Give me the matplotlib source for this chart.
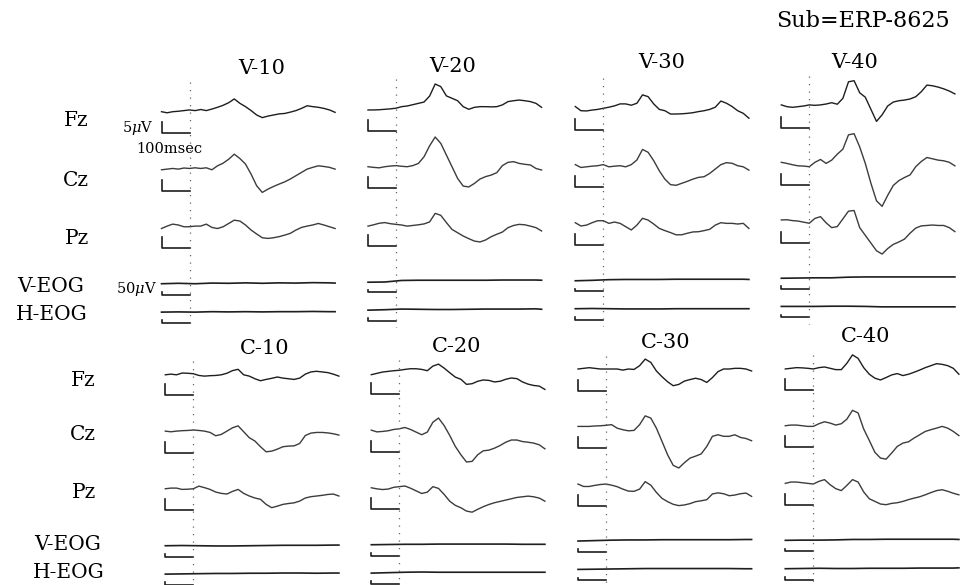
import numpy as np
import matplotlib.pyplot as plt

plt.rcParams['font.family'] = ['DejaVu Serif']
plt.rcParams['mathtext.fontset'] = 'dejavuserif'

# sample times (ms), stimulus onset at 0
T_MS = np.arange(-100, 521, 20)
T_EOG = [-100, -40, 20, 80, 140, 200, 260, 320, 380, 440, 500, 520]

# averaged ERPs in uV (positive up)
V10_FZ = [0, -0.5, 0, 0.2, 0.5, 0.8, 0.5, 1.0, 0.5, 1.2, 2.0, 2.9, 4.1, 5.8, 3.8, 2.3,
          0.5, -1.5, -2.7, -2.0, -1.5, -1.0, -0.8, -0.2, 0.5, 1.5, 2.7, 2.3, 2.0, 1.5, 0.8, -0.3]
V10_CZ = [-0.3, 0, 0.3, 0, 0.5, 0.3, 0.6, 0.3, 0.6, -0.3, 1.5, 2.7, 4.5, 6.8, 4.8, 2.3,
          -2.3, -7.6, -10.6, -9.1, -7.9, -6.8, -5.8, -4.5, -3.0, -1.5, 0, 0.8, 1.5, 1.2, 0.8, 0]
V10_PZ = [-0.8, 0.3, 1.2, 0.8, 0, 0, 0.3, 0.3, 1.2, -0.3, -0.8, 0, 1.5, 3.0, 2.6, 0.8,
          -1.5, -3.3, -5.0, -5.3, -5.0, -4.5, -3.8, -3.0, -1.5, -0.3, 0.3, 0.8, 1.5, 0.8, 0, -0.8]

V20_FZ = [-0.3, -0.3, -0.2, 0, 0.2, 0.5, 1.2, 1.5, 2.1, 2.7, 3.3, 6.0, 11.5, 10.3, 6.1, 5.0,
          3.9, 1.2, 0, 0.9, 1.2, 1.2, 1.1, 1.2, 2.0, 3.5, 3.9, 4.2, 3.9, 3.5, 2.7, 0.9]
V20_CZ = [0, -0.3, -0.5, 0, 0.3, 0.5, 0.2, 0, 0.5, 1.5, 4.5, 9.5, 13.5, 10.6, 5.3, 0,
          -5.3, -8.8, -9.2, -7.6, -5.6, -4.5, -3.8, -2.7, 0.5, 2.0, 2.3, 1.5, 1.1, 0.8, -0.8, -1.5]
V20_PZ = [-0.8, -0.2, 0.5, 0.8, 0.3, 0, -0.3, -0.8, -0.5, -0.2, 0.2, 1.1, 5.0, 4.1, 0.8, -2.3,
          -3.8, -5.3, -6.5, -7.6, -8.0, -7.1, -5.6, -4.5, -3.5, -1.5, -0.5, 0, -0.2, -0.8, -1.5, -3.0]

V30_FZ = [0.8, -1.1, -1.2, -0.8, -0.5, 0, 0.5, 1.1, 2.0, 2.0, 1.4, 2.3, 6.1, 5.3, 2.0, -0.5,
          -1.1, -2.6, -2.6, -2.5, -2.3, -2.0, -1.5, -1.1, -0.5, 0.5, 3.3, 2.3, 0.8, -1.1, -2.3, -4.5]
V30_CZ = [0.5, -0.8, -0.5, -0.2, 0, 0.5, -0.5, -0.2, 0, -0.5, 0.5, 2.6, 7.4, 6.1, 2.3, -2.3,
          -6.1, -8.6, -8.9, -8.0, -7.1, -6.1, -5.3, -5.0, -3.5, -1.5, 0.5, 1.4, 1.1, 0, -0.5, -2.0]
V30_PZ = [0.3, -1.2, -0.8, 0.3, 1.2, 1.2, 0, 0.6, 0, -1.5, -3.0, -0.8, 2.3, 1.5, -0.3, -2.3,
          -3.3, -4.2, -5.2, -5.2, -4.5, -3.9, -3.8, -3.3, -2.7, -0.8, 0.3, 0, 0, -0.3, 0, -2.3]

V40_FZ = [0.5, -0.3, -0.6, -0.3, 0, 0.5, 0.3, 0.5, 0.9, 1.5, 0.8, 3.5, 11.0, 11.5, 6.0, 4.0,
          -1.5, -7.0, -4.0, 0, 1.8, 2.4, 2.7, 3.2, 4.2, 6.5, 9.5, 9.2, 8.6, 7.8, 6.8, 5.5]
V40_CZ = [0.5, 0, -0.6, -1.1, -1.2, -1.5, 0.5, 1.8, 0, 1.5, 4.2, 6.5, 13.0, 13.5, 7.5, 0,
          -9.0, -17.0, -19.5, -14.5, -10.0, -7.8, -6.4, -5.2, -1.5, 0.9, 2.7, 2.1, 1.5, 1.2, 0.5, -1.1]
V40_PZ = [0.5, 0.6, 0.2, 0, -0.5, -1.0, 1.2, 2.0, -0.8, -3.0, -2.5, 1.0, 4.5, 4.8, -3.0, -6.5,
          -10.0, -13.5, -15.0, -12.5, -10.6, -9.5, -8.2, -5.5, -3.2, -2.2, -2.0, -1.8, -2.0, -2.0, -3.0, -4.8]

C10_FZ = [-0.5, -0.2, -0.5, 0.3, 0.2, 0, -0.8, -1.1, -0.9, -0.8, -0.5, 0.2, 1.4, 2.0, -0.5, -1.1,
          -2.3, -3.2, -2.6, -2.1, -1.5, -2.0, -2.3, -2.6, -2.0, -0.2, 0.8, 1.1, 0.8, 0.5, -0.2, -1.1]
C10_CZ = [0, -0.3, 0, 0.2, 0.3, 0.5, 0.3, 0, -0.6, -2.1, -1.5, 0, 1.5, 2.4, -0.3, -3.0,
          -4.5, -7.1, -9.4, -9.1, -8.2, -7.1, -6.8, -6.7, -5.6, -2.0, -0.9, -0.6, -0.6, -0.8, -1.2, -1.8]
C10_PZ = [0, 0.3, 0.3, -0.3, -0.2, 0, 1.2, 0.5, -0.3, -1.5, -2.1, -2.4, -1.2, -0.3, -2.1, -3.3,
          -4.2, -4.8, -7.1, -8.6, -7.9, -7.1, -6.7, -6.4, -5.6, -4.2, -3.6, -3.3, -3.0, -2.6, -2.4, -3.3]

C20_FZ = [-0.9, -0.3, 0.3, 0.6, 0.9, 1.1, 1.5, 1.8, 1.8, 1.5, 0.9, 3.0, 3.9, 2.1, 0, -2.0,
          -3.0, -5.3, -5.0, -3.9, -3.3, -3.5, -4.2, -3.9, -3.0, -2.4, -2.7, -4.2, -5.2, -5.8, -6.1, -7.6]
C20_CZ = [0, -0.8, -0.6, -0.3, 0.3, 0.6, 1.2, 0.3, -0.9, -2.1, -0.9, 3.6, 5.5, 2.1, -2.4, -7.4,
          -11.2, -14.5, -14.2, -11.2, -9.4, -9.1, -8.2, -7.0, -5.5, -4.5, -4.5, -5.2, -5.5, -5.9, -6.7, -8.5]
C20_PZ = [0, -0.5, -0.8, -0.6, 0.2, 0.5, 0.8, -0.2, -1.4, -2.6, -2.0, 0.5, -0.3, -3.0, -6.1, -8.0,
          -9.1, -10.6, -11.1, -9.8, -8.6, -7.6, -6.8, -6.2, -5.6, -5.0, -4.4, -4.1, -3.8, -4.1, -4.7, -6.1]

C30_FZ = [0, 0.3, 0.6, 0.3, 0, 0, 0, 0, -0.5, 0, -0.2, 1.5, 4.5, 3.0, -0.9, -3.5,
          -5.8, -7.6, -7.0, -5.5, -4.8, -4.2, -4.8, -6.1, -3.9, -1.2, 0, 0, 0.3, 0.3, 0, -0.9]
C30_CZ = [0, 0, 0, 0.2, 0.3, 0.5, 0.8, -0.8, -1.5, -2.0, -1.8, 0.8, 4.8, 3.8, -0.8, -6.8,
          -12.9, -17.7, -18.9, -16.5, -14.4, -13.5, -12.5, -9.1, -4.5, -3.8, -4.5, -4.5, -3.8, -5.0, -5.5, -6.5]
C30_PZ = [0, -1.1, -1.1, -0.6, -0.2, 0, -0.5, -1.2, -2.3, -3.2, -3.3, -2.3, 1.1, -0.5, -3.8, -6.5,
          -8.0, -9.2, -9.8, -9.5, -8.9, -8.0, -7.6, -7.1, -4.5, -4.0, -4.4, -5.3, -5.0, -4.4, -4.1, -5.6]

C40_FZ = [-0.3, 0, 0.3, 0.2, 0, -0.3, 0.3, 0.6, 0, -0.6, -0.6, 2.3, 6.1, 4.5, 0.3, -2.7,
          -4.5, -5.3, -4.2, -3.0, -2.4, -3.3, -2.7, -1.8, -0.8, 0.3, 1.2, 2.1, 1.8, 1.2, 0, -2.7]
C40_CZ = [0, 0.3, 0.3, 0, -0.3, -0.3, 0.9, 1.8, 1.2, 0.3, 0.9, 3.0, 7.0, 5.8, -1.5, -6.7,
          -12.1, -14.7, -15.2, -12.4, -9.4, -7.9, -7.3, -5.6, -4.1, -2.6, -1.8, -1.1, -0.3, -1.1, -2.6, -4.5]
C40_PZ = [0, 0.6, 0.6, 0.3, 0, -0.3, 0.9, 1.7, -0.6, -2.4, -3.3, -0.9, 1.7, 0.6, -3.9, -7.0,
          -8.2, -9.4, -9.7, -9.1, -8.8, -8.2, -7.4, -6.7, -6.1, -5.2, -4.2, -3.3, -2.9, -3.6, -4.5, -5.2]

# EOG (uV), nearly flat
V10_VEOG = [0, 2, 0, 3, 2, 4, 2, 4, 3, 5, 4, 3]
V10_HEOG = [0, 1, 0, 2, 1, 2, 1, 2, 2, 3, 2, 2]
V20_VEOG = [-4, -3, 4, 5, 5, 5, 5, 5, 6, 6, 6, 5]
V20_HEOG = [-2, 0, 3, 2, 1, 1, 2, 3, 3, 3, 4, 2]
V30_VEOG = [-2, 0, 3, 4, 4, 4, 5, 5, 5, 5, 5, 4]
V30_HEOG = [0, 1, 0, -1, -1, -1, 0, 0, 0, 0, 0, 0]
V40_VEOG = [-1, 0, 1, 1, 4, 5, 5, 5, 5, 5, 5, 5]
V40_HEOG = [0, 0, 0, 1, 1, 0, -2, -2, -2, -2, -2, -2]
C10_VEOG = [0, 1, 0, -1, -1, 0, 1, 2, 2, 2, 3, 3]
C10_HEOG = [0, 1, 2, 3, 3, 4, 4, 5, 5, 4, 5, 5]
C20_VEOG = [0, 1, 2, 2, 3, 3, 3, 3, 3, 2, 2, 2]
C20_HEOG = [0, 2, 4, 5, 4, 4, 4, 4, 4, 4, 4, 4]
C30_VEOG = [0, 2, 4, 5, 5, 6, 6, 6, 6, 6, 7, 7]
C30_HEOG = [0, 1, 2, 3, 4, 4, 4, 4, 4, 4, 3, 3]
C40_VEOG = [0, 1, 1, 2, 4, 4, 5, 5, 5, 5, 5, 4]
C40_HEOG = [0, 1, 2, 1, 1, 2, 2, 2, 3, 3, 3, 4]

TOP_TITLES = ['V-10', 'V-20', 'V-30', 'V-40']
BOT_TITLES = ['C-10', 'C-20', 'C-30', 'C-40']
TOP_WAVES = [(V10_FZ, V10_CZ, V10_PZ, V10_VEOG, V10_HEOG),
             (V20_FZ, V20_CZ, V20_PZ, V20_VEOG, V20_HEOG),
             (V30_FZ, V30_CZ, V30_PZ, V30_VEOG, V30_HEOG),
             (V40_FZ, V40_CZ, V40_PZ, V40_VEOG, V40_HEOG)]
BOT_WAVES = [(C10_FZ, C10_CZ, C10_PZ, C10_VEOG, C10_HEOG),
             (C20_FZ, C20_CZ, C20_PZ, C20_VEOG, C20_HEOG),
             (C30_FZ, C30_CZ, C30_PZ, C30_VEOG, C30_HEOG),
             (C40_FZ, C40_CZ, C40_PZ, C40_VEOG, C40_HEOG)]
CHANNELS = ['Fz', 'Cz', 'Pz', 'V-EOG', 'H-EOG']

# ---- layout (pixels of the 966x585 page) ----
W, H = 966, 585
MS_PX = 0.28      # 100 msec = 28 px
UV_PX = 2.2       # 5 uV = 11 px
EOG_GAIN = 0.1    # EOG at 50 uV per 11 px
CH_OFF = [0, -26.1, -52.3, -78.2, -91.1]
XLIM = (-130, 560)
YLIM = (-110, 25)

top_onset = [189.5, 396, 603.3, 809.3]
top_fz_y = [111.7, 109.3, 108.3, 106]
bot_onset = [193.3, 399.3, 606, 813.3]
bot_fz_y = [373.7, 372.7, 369, 368.3]
top_title_xy = [(262, 68), (453, 66), (662, 62), (855, 62)]
bot_title_xy = [(265, 348), (457, 347), (666, 343), (866, 337)]

fig = plt.figure(figsize=(W / 100, H / 100), dpi=100)
fig.patch.set_facecolor('white')


def panel(onset_x, fz_y):
    left = onset_x + XLIM[0] * MS_PX
    width = (XLIM[1] - XLIM[0]) * MS_PX
    top = fz_y - YLIM[1] * UV_PX
    height = (YLIM[1] - YLIM[0]) * UV_PX
    ax = fig.add_axes([left / W, 1 - (top + height) / H, width / W, height / H])
    ax.set_xlim(*XLIM)
    ax.set_ylim(*YLIM)
    ax.axis('off')
    return ax


def draw_block(ax, waves, dot_top):
    fz, cz, pz, veog, heog = waves
    for off, wave, col in zip(CH_OFF[:3], (fz, cz, pz), ('#1e1e1e', '#3c3c3c', '#3c3c3c')):
        ax.plot(T_MS, np.array(wave) + off, color=col, lw=1.0, clip_on=False)
        # 5 uV / 100 msec calibration
        ax.plot([-100, -100, 0], [off - 4.8, off - 9.8, off - 9.8], color='#1e1e1e', lw=1.2)
    for off, wave in zip(CH_OFF[3:], (veog, heog)):
        ax.plot(T_EOG, np.array(wave) * EOG_GAIN + off, color='#1e1e1e', lw=1.2)
        ax.plot([-100, -100, 0], [off - 3.8, off - 5.0, off - 5.0], color='#1e1e1e', lw=1.2)
    ax.plot([0, 0], [dot_top, -99], color='#666666', lw=0.9, ls=(0, (1, 5)))


for i in range(4):
    draw_block(panel(top_onset[i], top_fz_y[i]), TOP_WAVES[i], 13.6)
    draw_block(panel(bot_onset[i], bot_fz_y[i]), BOT_WAVES[i], 6)

# text overlay in page pixels
lab = fig.add_axes([0, 0, 1, 1])
lab.set_xlim(0, W)
lab.set_ylim(H, 0)
lab.axis('off')

lab.text(776, 21, 'Sub=ERP-8625', fontsize=16, ha='left', va='center')
for (x, y), t in zip(top_title_xy, TOP_TITLES):
    lab.text(x, y, t, fontsize=15, ha='center', va='center')
for (x, y), t in zip(bot_title_xy, BOT_TITLES):
    lab.text(x, y, t, fontsize=15, ha='center', va='center')

top_lab_xy = [(76, 121), (76, 180), (77, 238), (51, 287), (52, 315)]
bot_lab_xy = [(83, 381), (83, 435), (84, 492), (68, 545), (69, 573)]
for (x, y), c in zip(top_lab_xy, CHANNELS):
    lab.text(x, y, c, fontsize=14.5, ha='center', va='center')
for (x, y), c in zip(bot_lab_xy, CHANNELS):
    lab.text(x, y, c, fontsize=14.5, ha='center', va='center')

lab.text(154, 128, r'5$\mu$V', fontsize=10.5, ha='right', va='center')
lab.text(169, 149, '100msec', fontsize=10.5, ha='center', va='center')
lab.text(157, 289, r'50$\mu$V', fontsize=10.5, ha='right', va='center')

fig.savefig('out.png', dpi=100, facecolor='white')
